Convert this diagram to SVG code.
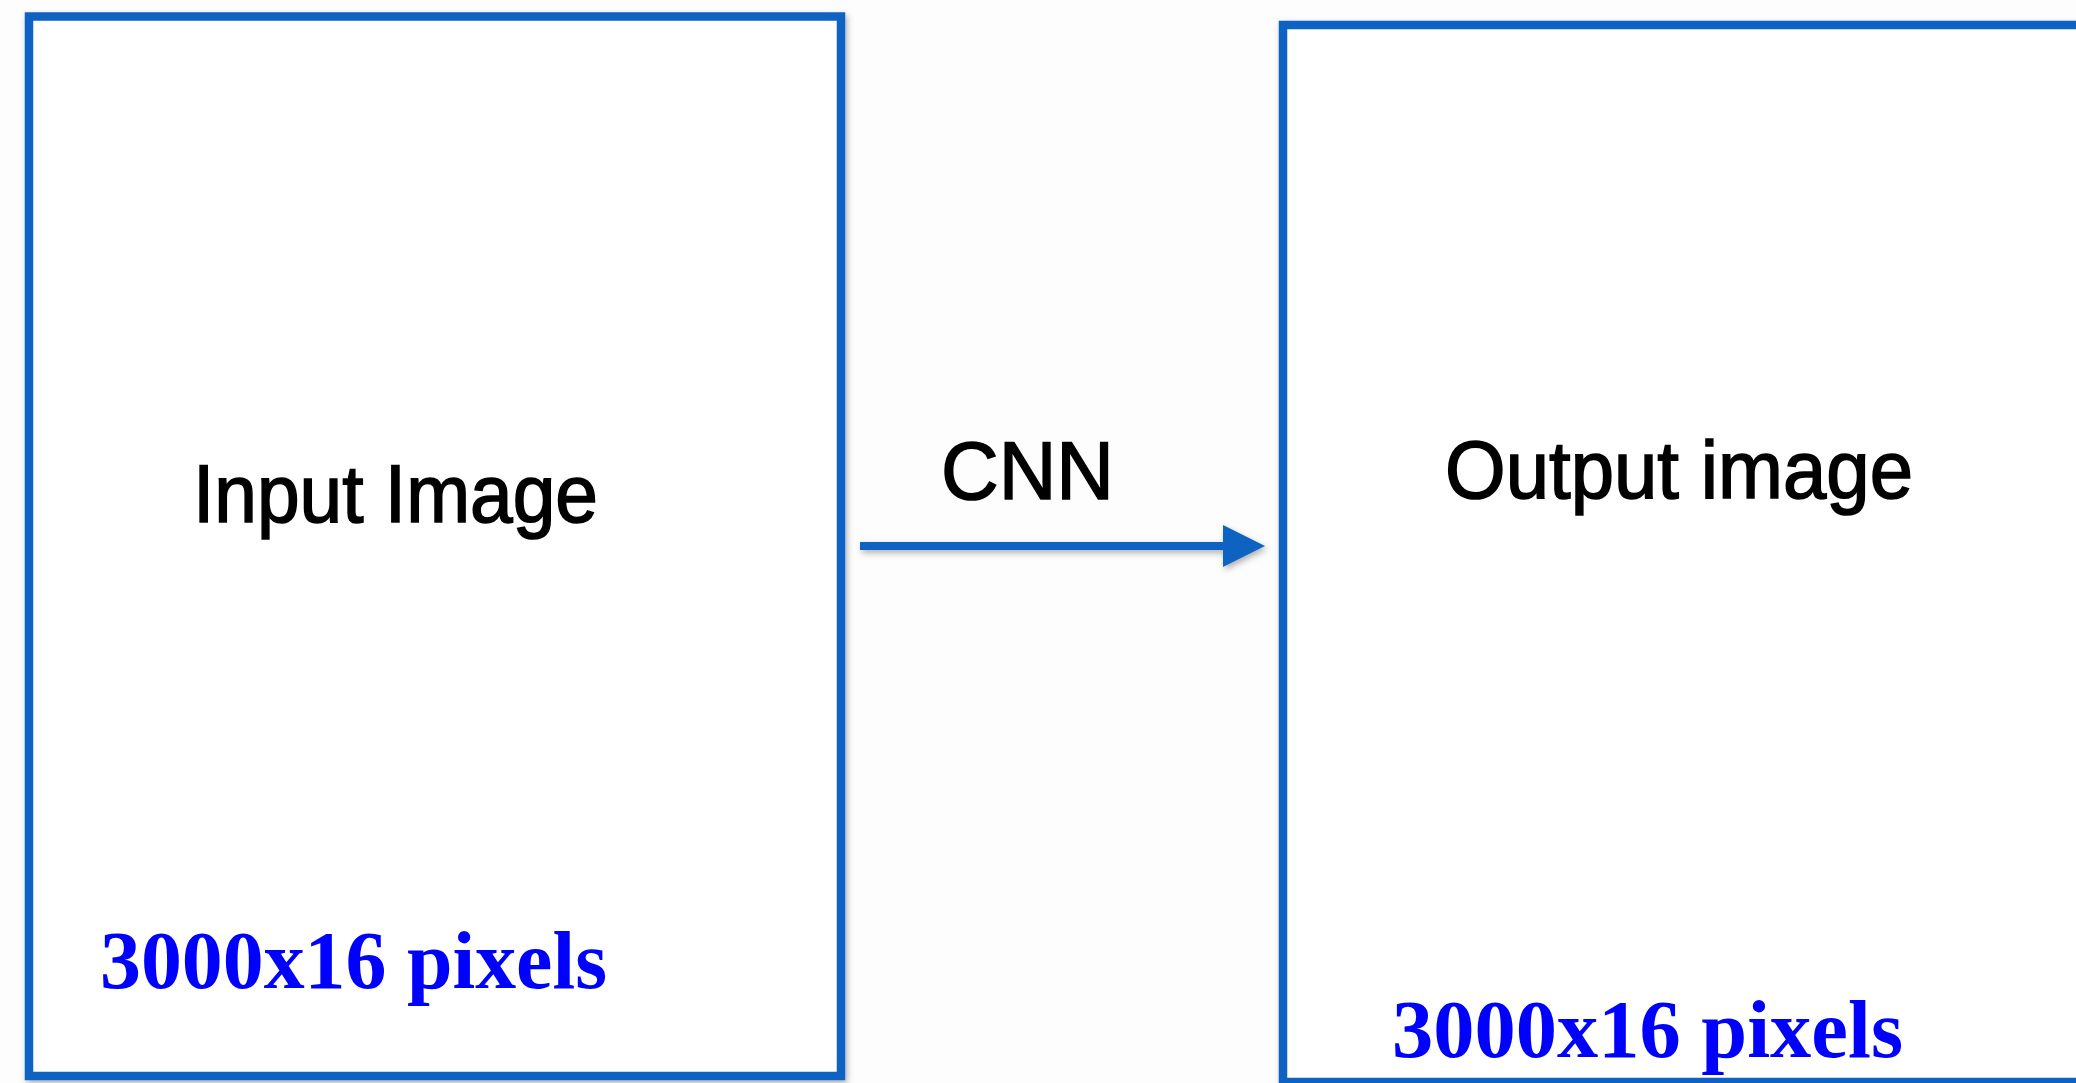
<svg xmlns="http://www.w3.org/2000/svg" width="2076" height="1083" viewBox="0 0 2076 1083">
  <defs>
    <filter id="shadow" x="-5%" y="-5%" width="110%" height="110%">
      <feDropShadow dx="2" dy="3" stdDeviation="3" flood-color="#000" flood-opacity="0.3"/>
    </filter>
    <filter id="lineShadow" filterUnits="userSpaceOnUse" x="840" y="500" width="450" height="100">
      <feDropShadow dx="2" dy="3" stdDeviation="3" flood-color="#000" flood-opacity="0.3"/>
    </filter>
    <marker id="arrow" markerUnits="userSpaceOnUse" markerWidth="44" markerHeight="44" refX="0" refY="21" orient="auto">
      <polygon points="0,0 42,21 0,42" fill="#0a62c2"/>
    </marker>
  </defs>
  <style>
    .box { fill: #ffffff; stroke: #0a62c2; stroke-width: 8.5; }
    .label { font-family: "Liberation Sans", Arial, sans-serif; font-size: 82px; fill: #000000; stroke: #000000; stroke-width: 1.6px; }
    .size { font-family: "Liberation Serif", "Times New Roman", serif; font-size: 82px; font-weight: bold; fill: #0000ff; }
    .conn { stroke: #0a62c2; stroke-width: 8; fill: none; }
  </style>
  <rect x="0" y="0" width="2076" height="1083" fill="#fdfdfd"/>

  <g id="input-node">
    <rect class="box" x="29" y="16.5" width="812" height="1059.5" filter="url(#shadow)"/>
    <text class="label" x="193" y="522" textLength="405" lengthAdjust="spacingAndGlyphs">Input Image</text>
    <text class="size" x="100" y="988" textLength="507" lengthAdjust="spacingAndGlyphs">3000x16 pixels</text>
  </g>

  <g id="output-node">
    <rect class="box" x="1283" y="25" width="860" height="1057" filter="url(#shadow)"/>
    <text class="label" x="1445" y="498" textLength="468" lengthAdjust="spacingAndGlyphs">Output image</text>
    <text class="size" x="1392" y="1057" textLength="511" lengthAdjust="spacingAndGlyphs">3000x16 pixels</text>
  </g>

  <g id="connectors">
    <g filter="url(#lineShadow)">
      <line class="conn" x1="860" y1="546" x2="1223" y2="546" marker-end="url(#arrow)"/>
    </g>
    <text class="label" x="941" y="499" textLength="173" lengthAdjust="spacingAndGlyphs">CNN</text>
  </g>
</svg>
